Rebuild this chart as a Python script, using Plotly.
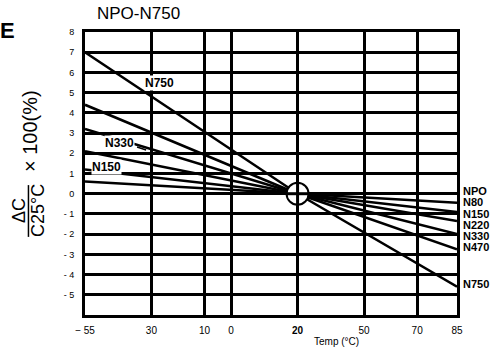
import plotly.graph_objects as go

# ---- data ----
temp_points = [-55, 25, 85]          # left end, reference point (circle), right end
series_names = ["NPO", "N80", "N150", "N220", "N330", "N470", "N750"]
left_values = [0.0, 0.6, 1.2, 2.1, 3.2, 4.4, 7.0]       # ΔC % at -55 °C
right_values = [0.0, -0.45, -0.9, -1.35, -2.0, -2.75, -4.6]  # ΔC % at 85 °C

x_tick_vals = [-55, -30, -10, 0, 25, 50, 70, 85]
x_tick_text = ["\u2212 55", "30", "10", "0", "<b>20</b>", "50", "70", "85"]
y_tick_vals = [8, 7, 6, 5, 4, 3, 2, 1, 0, -1, -2, -3, -4, -5]
y_tick_text = ["8", "7", "6", "5", "4", "3", "2", "1", "0", "- 1", "- 2", "- 3", "- 4", "- 5"]

right_label_y = [0.15, -0.42, -0.98, -1.54, -2.1, -2.66, -4.45]
inner_labels = ["N750", "N330", "N150"]
inner_label_x = [-27, -42, -47]
inner_label_y = [5.5, 2.5, 1.32]

FONT = "Arial"

fig = go.Figure()
for name, lv, rv in zip(series_names, left_values, right_values):
    fig.add_trace(go.Scatter(
        x=temp_points, y=[lv, 0, rv], mode="lines", name=name,
        line=dict(color="black", width=2.5), showlegend=False, hoverinfo="skip"))

annotations = []
annotations.append(dict(text="NPO-N750", xref="paper", yref="paper", x=0.145, y=1.064,
                        showarrow=False, font=dict(family=FONT, size=17, color="black"),
                        xanchor="center", yanchor="middle"))
annotations.append(dict(text="<b>E</b>", xref="paper", yref="paper", x=-0.207, y=1.005,
                        showarrow=False, font=dict(family=FONT, size=22, color="black"),
                        xanchor="center", yanchor="middle"))
for name, yv in zip(series_names, right_label_y):
    annotations.append(dict(text="<b>%s</b>" % name, xref="paper", yref="y", x=1.0108, y=yv,
                            showarrow=False, xanchor="left", yanchor="middle",
                            font=dict(family=FONT, size=11, color="black")))
for name, xv, yv in zip(inner_labels, inner_label_x, inner_label_y):
    annotations.append(dict(text="<b>%s</b>" % name, xref="x", yref="y", x=xv, y=yv,
                            showarrow=False, xanchor="center", yanchor="middle",
                            bgcolor="white", borderpad=0,
                            font=dict(family=FONT, size=12, color="black")))
annotations.append(dict(text="ΔC", xref="paper", yref="paper", x=-0.1774, y=0.3675,
                        textangle=-90, showarrow=False, xanchor="center", yanchor="middle",
                        font=dict(family=FONT, size=18, color="black")))
annotations.append(dict(text="C25°C", xref="paper", yref="paper", x=-0.1263, y=0.3675,
                        textangle=-90, showarrow=False, xanchor="center", yanchor="middle",
                        font=dict(family=FONT, size=18, color="black")))
annotations.append(dict(text="× 100(%)", xref="paper", yref="paper", x=-0.1478, y=0.650,
                        textangle=-90, showarrow=False, xanchor="center", yanchor="middle",
                        font=dict(family=FONT, size=20, color="black")))
annotations.append(dict(text="Temp (°C)", xref="paper", yref="paper", x=0.677, y=-0.092,
                        showarrow=False, xanchor="center", yanchor="middle",
                        font=dict(family=FONT, size=10, color="black")))

shapes = []
shapes.append(dict(type="line", xref="paper", yref="paper", x0=-0.152, x1=-0.152,
                   y0=0.276, y1=0.459, line=dict(color="black", width=1.5)))
shapes.append(dict(type="line", xref="x", yref="y", x0=-35.4, y0=2.31, x1=-32.0, y1=2.16,
                   line=dict(color="black", width=1.5)))
shapes.append(dict(type="circle", xref="x", yref="y", xsizemode="pixel", ysizemode="pixel",
                   xanchor=25, yanchor=0, x0=-11, x1=11, y0=-11, y1=11,
                   fillcolor="white", line=dict(color="black", width=2), layer="above"))
shapes.append(dict(type="line", xref="x", yref="y", xsizemode="pixel", ysizemode="pixel",
                   xanchor=25, yanchor=0, x0=0, x1=0, y0=-11, y1=11,
                   line=dict(color="black", width=3), layer="above"))
shapes.append(dict(type="line", xref="x", yref="y", xsizemode="pixel", ysizemode="pixel",
                   xanchor=25, yanchor=0, x0=-11, x1=11, y0=0, y1=0,
                   line=dict(color="black", width=3), layer="above"))

fig.update_layout(
    width=494, height=352, autosize=False,
    margin=dict(l=85, r=37, t=32, b=37, pad=0, autoexpand=False),
    paper_bgcolor="white", plot_bgcolor="white",
    annotations=annotations, shapes=shapes,
    xaxis=dict(range=[-55, 85], tickmode="array", tickvals=x_tick_vals, ticktext=x_tick_text,
               showgrid=True, gridcolor="black", gridwidth=3, automargin=False,
               showline=True, linecolor="black", linewidth=3, mirror=True,
               zeroline=False, ticks="", ticklabelstandoff=4,
               tickfont=dict(family=FONT, size=10, color="black")),
    yaxis=dict(range=[-6, 8], tickmode="array", tickvals=y_tick_vals, ticktext=y_tick_text,
               showgrid=True, gridcolor="black", gridwidth=3, automargin=False,
               showline=True, linecolor="black", linewidth=3, mirror=True,
               zeroline=False, ticks="", ticklabelstandoff=6,
               tickfont=dict(family=FONT, size=9, color="black")),
)

fig.write_html("out.html", config={"displayModeBar": False},
               post_script="document.body.style.margin='0';document.body.style.overflow='hidden';")
